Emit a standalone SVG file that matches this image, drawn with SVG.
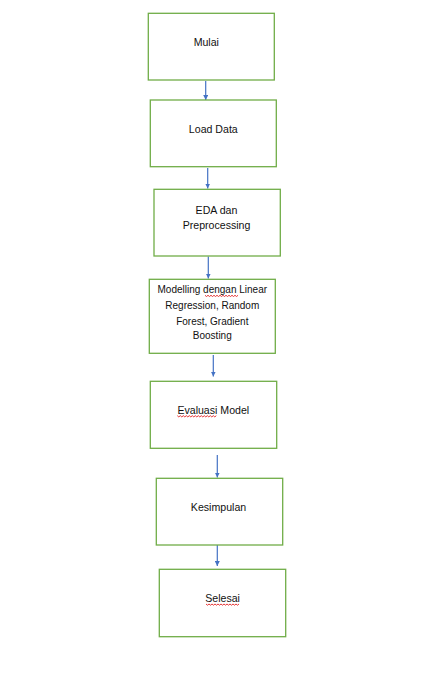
<svg xmlns="http://www.w3.org/2000/svg" width="430" height="692" viewBox="0 0 430 692">
<style>
.box{fill:#ffffff;stroke:#70AD47;stroke-width:1.3}
.t{font-family:"Liberation Sans",Arial,sans-serif;font-size:10.6px;fill:#111;text-anchor:middle}
.ts{font-size:10px}
.c{stroke:#4472C4;stroke-width:1.2;fill:none}
.sq{stroke:#E02020;stroke-width:0.9;fill:none}
</style>
<defs>
<marker id="ah" viewBox="0 0 10 10" refX="10" refY="5" markerWidth="5" markerHeight="5" orient="auto" markerUnits="userSpaceOnUse">
<path d="M0,0 L10,5 L0,10 z" fill="#4472C4"/>
</marker>
</defs>
<rect width="430" height="692" fill="#ffffff"/>
<g id="connectors">
<line class="c" x1="205.7" y1="81" x2="205.7" y2="100" marker-end="url(#ah)"/>
<line class="c" x1="207.7" y1="168" x2="207.7" y2="188.5" marker-end="url(#ah)"/>
<line class="c" x1="208.3" y1="256.5" x2="208.3" y2="278.5" marker-end="url(#ah)"/>
<line class="c" x1="213.3" y1="355" x2="213.3" y2="376.5" marker-end="url(#ah)"/>
<line class="c" x1="217.3" y1="455" x2="217.3" y2="477.5" marker-end="url(#ah)"/>
<line class="c" x1="217.3" y1="545" x2="217.3" y2="566" marker-end="url(#ah)"/>
</g>
<g id="mulai">
<rect class="box" x="148.3" y="13.3" width="126" height="66.7"/>
<text class="t" x="206.3" y="46">Mulai</text>
</g>
<g id="load-data">
<rect class="box" x="150.3" y="100" width="126" height="66.7"/>
<text class="t" x="213.3" y="132.7">Load Data</text>
</g>
<g id="eda">
<rect class="box" x="154" y="189.3" width="126.3" height="66.7"/>
<text class="t" x="216.5" y="214.3">EDA dan</text>
<text class="t" x="216.5" y="229.3">Preprocessing</text>
</g>
<g id="modelling">
<rect class="box" x="149.3" y="279.3" width="126" height="74"/>
<text class="t ts" x="212.3" y="293.3">Modelling dengan Linear</text>
<text class="t ts" x="212.3" y="309.3">Regression, Random</text>
<text class="t ts" x="212.3" y="325">Forest, Gradient</text>
<text class="t ts" x="212.3" y="339.3">Boosting</text>
<path class="sq" d="M205,295.3 l1.5,1.2 l1.5,-1.2 l1.5,1.2 l1.5,-1.2 l1.5,1.2 l1.5,-1.2 l1.5,1.2 l1.5,-1.2 l1.5,1.2 l1.5,-1.2 l1.5,1.2 l1.5,-1.2 l1.5,1.2 l1.5,-1.2 l1.5,1.2 l1.5,-1.2 l1.5,1.2 l1.5,-1.2 l1.5,1.2 l1.5,-1.2 l1.5,1.2 l1.5,-1.2"/>
</g>
<g id="evaluasi">
<rect class="box" x="150.3" y="381.3" width="126.4" height="67"/>
<text class="t" x="213.3" y="414">Evaluasi Model</text>
<path class="sq" d="M177.3,415.7 l1.5,1.2 l1.5,-1.2 l1.5,1.2 l1.5,-1.2 l1.5,1.2 l1.5,-1.2 l1.5,1.2 l1.5,-1.2 l1.5,1.2 l1.5,-1.2 l1.5,1.2 l1.5,-1.2 l1.5,1.2 l1.5,-1.2 l1.5,1.2 l1.5,-1.2 l1.5,1.2 l1.5,-1.2 l1.5,1.2 l1.5,-1.2 l1.5,1.2 l1.5,-1.2 l1.5,1.2 l1.5,-1.2 l1.5,1.2 l1.5,-1.2"/>
</g>
<g id="kesimpulan">
<rect class="box" x="156.3" y="478.3" width="126.4" height="66.7"/>
<text class="t" x="218.5" y="510.7">Kesimpulan</text>
</g>
<g id="selesai">
<rect class="box" x="159.3" y="569.3" width="126.4" height="67.4"/>
<text class="t" x="222.6" y="601.7">Selesai</text>
<path class="sq" d="M206,604 l1.5,1.2 l1.5,-1.2 l1.5,1.2 l1.5,-1.2 l1.5,1.2 l1.5,-1.2 l1.5,1.2 l1.5,-1.2 l1.5,1.2 l1.5,-1.2 l1.5,1.2 l1.5,-1.2 l1.5,1.2 l1.5,-1.2 l1.5,1.2 l1.5,-1.2 l1.5,1.2 l1.5,-1.2 l1.5,1.2 l1.5,-1.2 l1.5,1.2 l1.5,-1.2"/>
</g>
</svg>
